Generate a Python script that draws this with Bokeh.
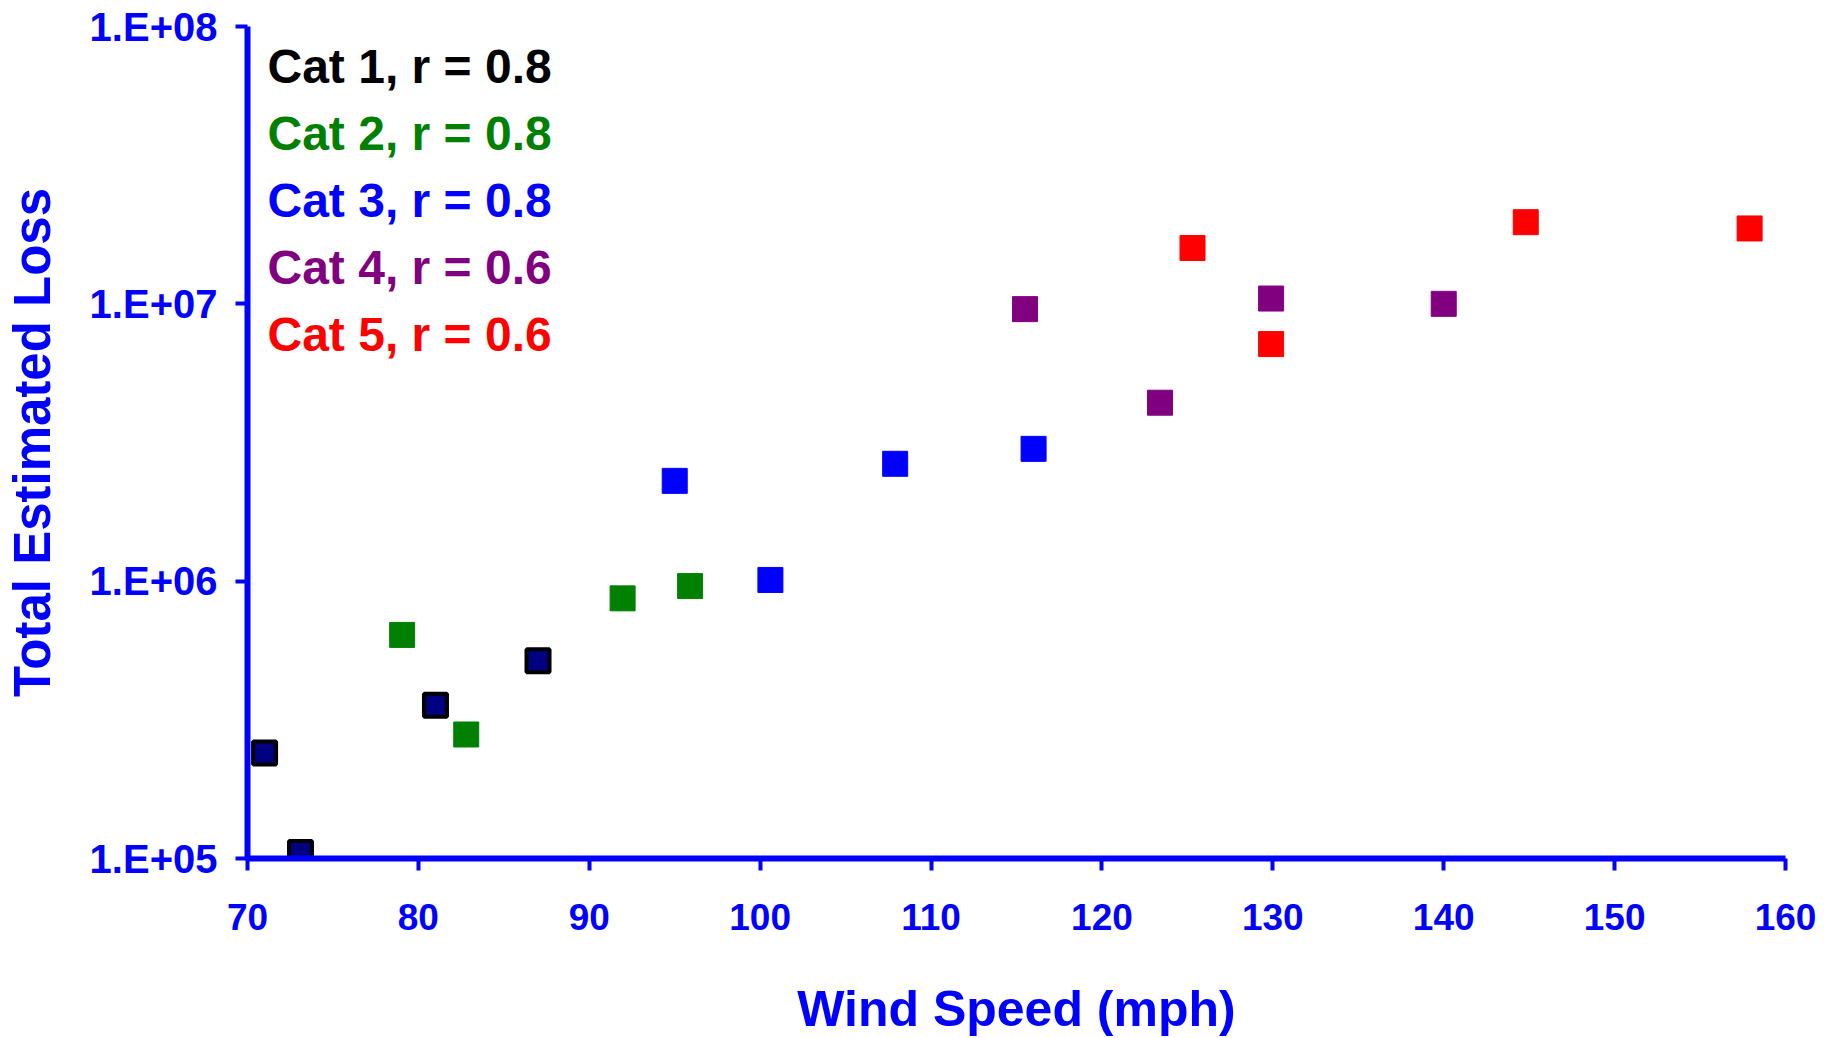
from bokeh.plotting import figure
from bokeh.models import FixedTicker, Label
from bokeh.embed import file_html
from bokeh.resources import INLINE

# ---- data ----
cat1_speed = [71.0, 73.1, 81.0, 87.0]
cat1_loss = [2.4e5, 1.05e5, 3.57e5, 5.17e5]
cat2_speed = [79.05, 82.8, 91.95, 95.9]
cat2_loss = [6.4e5, 2.8e5, 8.67e5, 9.6e5]
cat3_speed = [95.0, 100.6, 107.9, 116.0]
cat3_loss = [2.3e6, 1.01e6, 2.65e6, 3.0e6]
cat4_speed = [115.5, 123.4, 129.9, 140.0]
cat4_loss = [9.57e6, 4.4e6, 1.045e7, 1.0e7]
cat5_speed = [125.3, 129.9, 144.8, 157.9]
cat5_loss = [1.59e7, 7.16e6, 1.97e7, 1.87e7]

legend_texts = ["Cat 1, r = 0.8", "Cat 2, r = 0.8", "Cat 3, r = 0.8",
                "Cat 4, r = 0.6", "Cat 5, r = 0.6"]
legend_colors = ["#000000", "#008000", "#0000FF", "#800080", "#FF0000"]

x_ticks = [70, 80, 90, 100, 110, 120, 130, 140, 150, 160]
y_ticks = [1e5, 1e6, 1e7, 1e8]
y_tick_labels = ["1.E+05", "1.E+06", "1.E+07", "1.E+08"]

FONT = "Liberation Sans"
BLUE = "#0000FF"

p = figure(frame_width=1538, frame_height=832, output_backend="svg", toolbar_location=None,
           x_range=(70, 160), y_range=(1e5, 1e8), y_axis_type="log",
           min_border_left=242, min_border_right=40, min_border_top=26,
           min_border_bottom=20)
p.outline_line_color = None
p.xgrid.visible = False
p.ygrid.visible = False
p.background_fill_color = "white"
p.border_fill_color = "white"

# series
p.scatter(cat2_speed, cat2_loss, marker="square", size=25, fill_color="#008000", line_color="#008000")
p.scatter(cat3_speed, cat3_loss, marker="square", size=25, fill_color="#0000FF", line_color="#0000FF")
p.scatter(cat4_speed, cat4_loss, marker="square", size=25, fill_color="#800080", line_color="#800080")
p.scatter(cat5_speed, cat5_loss, marker="square", size=25, fill_color="#FF0000", line_color="#FF0000")
p.scatter(cat1_speed, cat1_loss, marker="square", size=23, fill_color="#000080", line_color="#000000", line_width=4)

# axes
for ax in (p.xaxis[0], p.yaxis[0]):
    ax.axis_line_color = BLUE
    ax.axis_line_width = 6
    ax.major_tick_line_color = BLUE
    ax.major_tick_line_width = 4
    ax.major_tick_in = 0
    ax.minor_tick_line_color = None
    ax.major_label_text_color = BLUE
    ax.major_label_text_font = FONT
    ax.major_label_text_font_style = "bold"
    ax.axis_label_text_color = BLUE
    ax.axis_label_text_font = FONT
    ax.axis_label_text_font_style = "bold"

p.xaxis.ticker = FixedTicker(ticks=x_ticks)
p.xaxis.major_tick_out = 12
p.xaxis.major_label_text_font_size = "37px"
p.xaxis.major_label_standoff = 33
p.xaxis.axis_label = "Wind Speed (mph)"
p.xaxis.axis_label_text_font_size = "50px"
p.xaxis.axis_label_standoff = 48

p.yaxis.ticker = FixedTicker(ticks=y_ticks)
p.yaxis.major_label_overrides = {t: s for t, s in zip(y_ticks, y_tick_labels)}
p.yaxis.major_tick_out = 12
p.yaxis.major_label_text_font_size = "40px"
p.yaxis.major_label_standoff = 18
p.yaxis.axis_label = "Total Estimated Loss"
p.yaxis.axis_label_text_font_size = "51px"
p.yaxis.axis_label_standoff = 26

# legend-like colored labels
for i, (t, c) in enumerate(zip(legend_texts, legend_colors)):
    p.add_layout(Label(x=20, y=792 - i * 67, x_units="screen", y_units="screen",
                       text=t, text_color=c, text_font=FONT, text_font_style="bold",
                       text_font_size="48px", text_baseline="middle", text_align="left"))

open("out.html", "w").write(file_html(p, INLINE))
